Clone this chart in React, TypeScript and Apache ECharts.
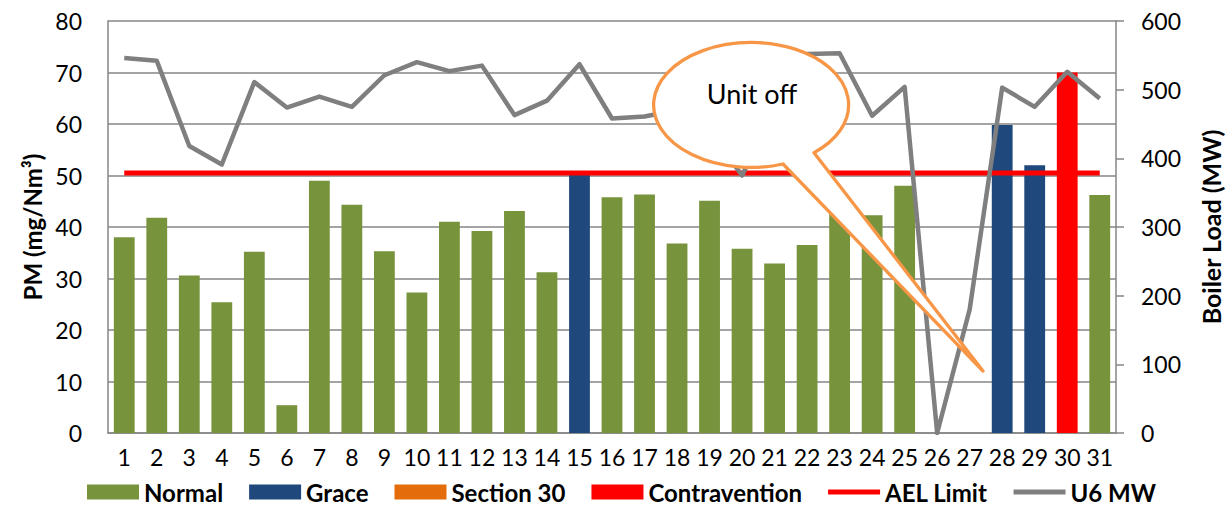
import React, { useEffect, useRef } from "react";
import * as echarts from "echarts";

const categories = ["1","2","3","4","5","6","7","8","9","10","11","12","13","14","15","16","17","18","19","20","21","22","23","24","25","26","27","28","29","30","31"];
const normal = [38.0, 41.8, 30.6, 25.4, 35.2, 5.4, 49.0, 44.3, 35.3, 27.3, 41.0, 39.2, 43.1, 31.2, null, 45.8, 46.3, 36.8, 45.1, 35.8, 32.9, 36.5, 45.4, 42.3, 48.0, null, null, null, null, null, 46.2];
const grace = [null, null, null, null, null, null, null, null, null, null, null, null, null, null, 50.6, null, null, null, null, null, null, null, null, null, null, null, null, 59.8, 52.0, null, null];
const section30 = [null, null, null, null, null, null, null, null, null, null, null, null, null, null, null, null, null, null, null, null, null, null, null, null, null, null, null, null, null, null, null];
const contravention = [null, null, null, null, null, null, null, null, null, null, null, null, null, null, null, null, null, null, null, null, null, null, null, null, null, null, null, null, null, 70.0, null];
const aelLimit = [50.5, 50.5, 50.5, 50.5, 50.5, 50.5, 50.5, 50.5, 50.5, 50.5, 50.5, 50.5, 50.5, 50.5, 50.5, 50.5, 50.5, 50.5, 50.5, 50.5, 50.5, 50.5, 50.5, 50.5, 50.5, 50.5, 50.5, 50.5, 50.5, 50.5, 50.5];
const u6MW = [546, 542, 418, 391, 511, 474, 490, 475, 521, 540, 527, 535, 463, 484, 537, 458, 461, 470, 440, 375, 470, 552, 553, 462, 504, 0, 180, 503, 475, 526, 487];
const pmTicks = { min: 0, max: 80, interval: 10 };
const mwTicks = { min: 0, max: 600, interval: 100 };

const FONT = "Lato";
const CALLOUT_D = "M783 164 A97.5 62.5 0 1 1 814 152.7 L983 371 Z";
const LINE_ICON = "path://M0 0H52V5H0Z";

export default function App() {
  const ref = useRef<HTMLDivElement>(null);
  useEffect(() => {
    document.body.style.margin = "0";
    if (!ref.current) return;
    echarts.graphic.registerShape("callout", echarts.graphic.extendPath(CALLOUT_D, {}));
    const chart = echarts.init(ref.current, undefined, { renderer: "svg" });
    const axisLine = { show: true, lineStyle: { color: "#868686", width: 1.5 } };
    chart.setOption({
      animation: false,
      textStyle: { fontFamily: FONT },
      grid: { left: 108, right: 100, top: 21, bottom: 78 },
      legend: {
        left: 87,
        top: 480,
        padding: 0,
        itemWidth: 52,
        itemHeight: 15,
        itemGap: 26,
        textStyle: { fontFamily: FONT, fontWeight: "bold", fontSize: 24, color: "#000" },
        data: [
          { name: "Normal", icon: "rect" },
          { name: "Grace", icon: "rect" },
          { name: "Section 30", icon: "rect" },
          { name: "Contravention", icon: "rect" },
          { name: "AEL Limit", icon: LINE_ICON, itemStyle: { color: "#FF0000" } },
          { name: "U6 MW", icon: LINE_ICON, itemStyle: { color: "#7F7F7F" } },
        ],
      },
      xAxis: {
        type: "category",
        data: categories,
        boundaryGap: true,
        axisLine,
        axisTick: { show: false },
        axisLabel: { fontSize: 23, color: "#000", margin: 12, interval: 0 },
      },
      yAxis: [
        {
          type: "value",
          ...pmTicks,
          name: "PM (mg/Nm³)",
          nameLocation: "middle",
          nameGap: 64,
          nameTextStyle: { fontFamily: FONT, fontWeight: "bold", fontSize: 24, color: "#000" },
          axisLine,
          axisTick: { show: false },
          axisLabel: { fontSize: 23, color: "#000", margin: 26 },
          splitLine: { show: true, lineStyle: { color: "#868686", width: 1.5 } },
        },
        {
          type: "value",
          ...mwTicks,
          position: "right",
          name: "Boiler Load (MW)",
          nameLocation: "middle",
          nameGap: 82,
          nameTextStyle: { fontFamily: FONT, fontWeight: "bold", fontSize: 25, color: "#000" },
          axisLine,
          axisTick: { show: true, inside: false, length: 8, lineStyle: { color: "#868686", width: 1.5 } },
          axisLabel: { fontSize: 23, color: "#000", margin: 25 },
          splitLine: { show: false },
        },
      ],
      series: [
        { name: "Normal", type: "bar", stack: "pm", data: normal, barWidth: "64%", itemStyle: { color: "#77933C" } },
        { name: "Grace", type: "bar", stack: "pm", data: grace, barWidth: "64%", itemStyle: { color: "#1F497D" } },
        { name: "Section 30", type: "bar", stack: "pm", data: section30, barWidth: "64%", itemStyle: { color: "#E46C0A" } },
        { name: "Contravention", type: "bar", stack: "pm", data: contravention, barWidth: "64%", itemStyle: { color: "#FF0000" } },
        { name: "AEL Limit", type: "line", data: aelLimit, symbol: "none", showSymbol: false, lineStyle: { color: "#FF0000", width: 5 }, itemStyle: { color: "#FF0000" }, z: 3 },
        { name: "U6 MW", type: "line", yAxisIndex: 1, data: u6MW, symbol: "none", showSymbol: false, lineStyle: { color: "#7F7F7F", width: 4.5, join: "round" }, itemStyle: { color: "#7F7F7F" }, z: 4 },
      ],
      graphic: [
        { type: "callout", x: 0, y: 0, z: 100, style: { fill: "#FFFFFF", stroke: "#F79646", lineWidth: 3.3, lineJoin: "round" } },
        { type: "text", x: 752, y: 93, z: 101, style: { text: "Unit off", fontFamily: FONT, fontSize: 27, fill: "#000", textAlign: "center", textVerticalAlign: "middle" } },
      ],
    });
    return () => chart.dispose();
  }, []);
  return <div ref={ref} style={{ width: 1231, height: 511 }} />;
}
